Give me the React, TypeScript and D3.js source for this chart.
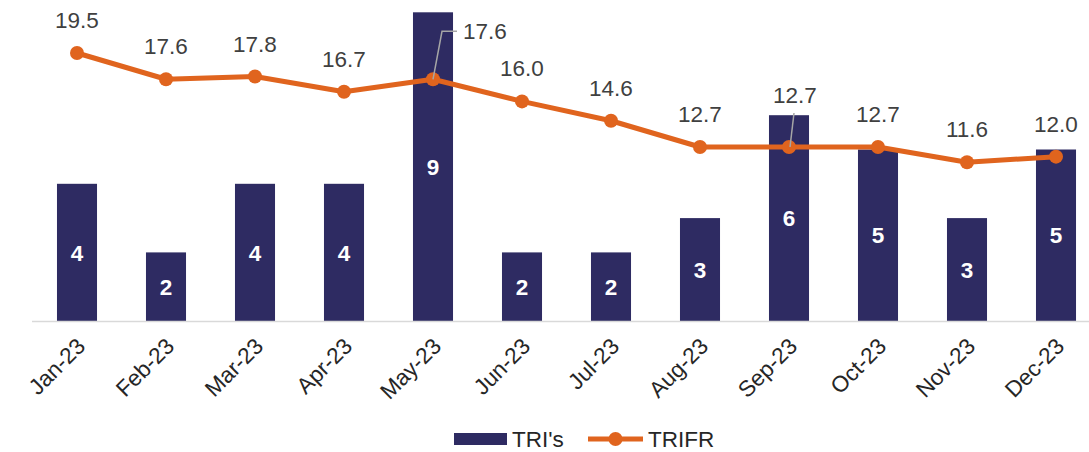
import React from "react";
import * as d3 from "d3";

const months = ["Jan-23","Feb-23","Mar-23","Apr-23","May-23","Jun-23","Jul-23","Aug-23","Sep-23","Oct-23","Nov-23","Dec-23"];
const tris = [4,2,4,4,9,2,2,3,6,5,3,5];
const trifr = [19.5,17.6,17.8,16.7,17.6,16.0,14.6,12.7,12.7,12.7,11.6,12.0];
// label offsets for manually moved labels (leader lines)
const labelOffsets: Record<number, { dx: number; dy: number; anchor: string }> = {
  4: { dx: 30, dy: -40, anchor: "start" },
  8: { dx: 6, dy: -44, anchor: "middle" },
};

const W = 1089, H = 452;
const FONT = "'Liberation Sans', Arial, sans-serif";
const BAR = "#2E2B62";
const LINE = "#E0641E";
const FS = 22.5;

export default function App() {
  const x = d3.scaleBand<string>().domain(months).range([32.5, 1100.5]).paddingInner(0.55).paddingOuter(0.275);
  const baseline = 321;
  const yBar = d3.scaleLinear().domain([0, 10]).range([baseline, baseline - 343]);
  const yLine = d3.scaleLinear().domain([0, 25]).range([baseline + 1.5, baseline + 1.5 - 345.5]);
  const cx = (m: string) => (x(m) as number) + x.bandwidth() / 2;
  const line = d3.line<number>().x((_, i) => cx(months[i])).y((d) => yLine(d));

  return (
    <svg width={W} height={H} style={{ position: "absolute", left: 0, top: 0, fontFamily: FONT }}>
      <rect width={W} height={H} fill="#fff" />
      {tris.map((v, i) => (
        <g key={months[i]}>
          <rect x={x(months[i])} y={yBar(v)} width={x.bandwidth()} height={baseline - yBar(v)} fill={BAR} />
          <text x={cx(months[i])} y={(yBar(v) + baseline) / 2} dy="0.36em" textAnchor="middle" fill="#fff" fontWeight="bold" fontSize={FS}>{v}</text>
        </g>
      ))}
      <line x1={32} x2={W} y1={baseline + 0.5} y2={baseline + 0.5} stroke="#d9d9d9" strokeWidth={1.5} />
      <path d={line(trifr) || ""} fill="none" stroke={LINE} strokeWidth={5} strokeLinejoin="round" />
      {trifr.map((v, i) => (
        <circle key={i} cx={cx(months[i])} cy={yLine(v)} r={7} fill={LINE} />
      ))}
      {trifr.map((v, i) => {
        const px = cx(months[i]);
        const py = yLine(v);
        const off = labelOffsets[i];
        if (off) {
          const lx = px + off.dx;
          const ly = py + off.dy;
          const leader = i === 4
            ? `M${px},${py} L${px + 9},${ly - 8} L${lx - 6},${ly - 8}`
            : `M${px + 1},${py} L${px + 5},${ly + 10}`;
          return (
            <g key={i}>
              <path d={leader} fill="none" stroke="#a6a6a6" strokeWidth={1.5} />
              <text x={lx} y={ly} textAnchor={off.anchor} fill="#404040" fontSize={FS}>{v.toFixed(1)}</text>
            </g>
          );
        }
        return (
          <text key={i} x={px} y={py - 25} textAnchor="middle" fill="#404040" fontSize={FS}>{v.toFixed(1)}</text>
        );
      })}
      {months.map((m) => (
        <text key={m} transform={`translate(${cx(m) + 4},${baseline + 21}) rotate(-45)`} textAnchor="end" dy="0.35em" fill="#262626" fontSize={FS}>{m}</text>
      ))}
      <g>
        <rect x={454} y={433} width={53} height={12} fill={BAR} />
        <text x={512} y={447} fill="#262626" fontSize={FS}>TRI's</text>
        <line x1={588} x2={643} y1={439} y2={439} stroke={LINE} strokeWidth={5} />
        <circle cx={615.5} cy={439} r={7} fill={LINE} />
        <text x={648} y={447} fill="#262626" fontSize={FS}>TRIFR</text>
      </g>
    </svg>
  );
}
